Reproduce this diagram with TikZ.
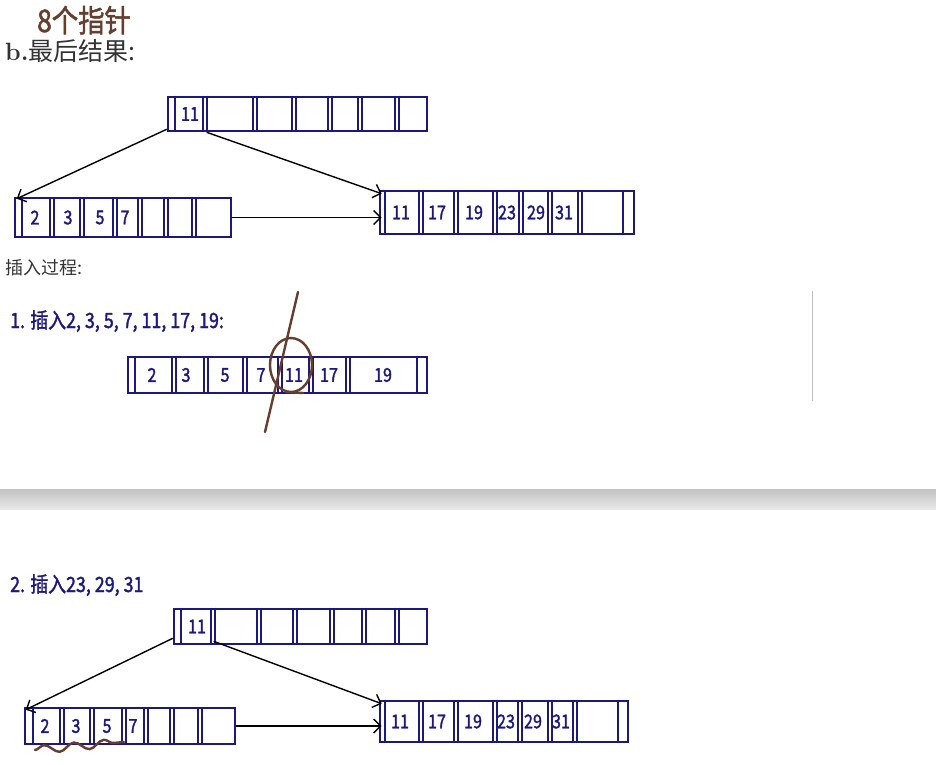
\documentclass[tikz,border=0pt]{standalone}
\usepackage{fontspec}
\newfontfamily\cjk{Noto Sans CJK SC}
\newfontfamily\cjkhand[FakeBold=1.6,FakeStretch=0.85]{Noto Sans CJK SC}
\usetikzlibrary{arrows.meta,calc,decorations.pathmorphing}
\definecolor{ink}{RGB}{28,24,125}
\definecolor{pencil}{RGB}{100,62,46}
\definecolor{textgray}{RGB}{51,51,51}
\tikzset{
  record/.style={draw=ink, line width=2.6pt, inner sep=0pt},
  sep/.style={draw=ink, line width=2.2pt},
  key/.style={text=ink, inner sep=0pt, font=\cjkhand\fontsize{19}{19}\selectfont},
  note/.style={text=ink, anchor=base west, inner sep=0pt, font=\cjkhand\fontsize{21}{21}\selectfont},
  heading/.style={text=textgray, anchor=base west, inner sep=0pt},
  link/.style={-{Straight Barb[length=7pt,width=14pt]}, line width=1.4pt, black},
  pen/.style={draw=pencil, line width=2.4pt, line cap=round},
}
% #1 record, #2 single inner lines, #3 double separators (left line), #4 x/key
\newcommand\drawcells[4]{%
  \foreach \s in {#2} {\draw[sep] (\s,0 |- #1.north) -- (\s,0 |- #1.south);}
  \foreach \s in {#3} {\draw[sep] (\s,0 |- #1.north) -- (\s,0 |- #1.south)
    (\s+4,0 |- #1.north) -- (\s+4,0 |- #1.south);}
  \foreach \x/\t in {#4} {\node[key] (#1-\t) at (\x,0 |- #1.center) {\t};}
}

\begin{document}
\begin{tikzpicture}[x=1pt,y=-1pt]
\useasboundingbox[fill=white] (0,0) rectangle (936,764);

% headings
\node[text=pencil, anchor=base west, inner sep=0pt, font=\cjkhand\fontsize{31}{31}\selectfont] (ptrnote) at (37,32) {8个指针};
\node[heading, font=\fontsize{25}{25}\selectfont] (final) at (5,60) {\textbf{b.}{\cjk 最后结果:}};
\node[heading, font=\cjk\fontsize{18}{18}\selectfont] (process) at (5,274) {插入过程:};

% final tree
\node[record, minimum width=259pt, minimum height=34pt] (rootA) at (297.5,114) {};
\node[record, minimum width=216pt, minimum height=39pt] (leafAL) at (123,217.5) {};
\node[record, minimum width=254pt, minimum height=43pt] (leafAR) at (507,212.5) {};
\drawcells{rootA}{175}{203,253,292,328,358,395}{190/11}
\drawcells{leafAL}{22}{50,80,113,138,164,192}{35/2,68/3,100/5,125/7}
\drawcells{leafAR}{385,623}{419,454,493,519,548,578}{401/11,437/17,474/19,507/23,536/29,564/31}
\draw[link] ([yshift=3pt]rootA.south west) -- ([xshift=3pt,yshift=-2pt]leafAL.north west);
\draw[link] ([xshift=40pt]rootA.south west) -- ([xshift=3pt,yshift=-4pt]leafAR.north west);
\draw[link] (leafAL.east) -- ([xshift=3pt]leafAL.east -| leafAR.west);

% step 1
\node[note] (step1) at (10,328) {1. 插入2, 3, 5, 7, 11, 17, 19:};
\node[record, minimum width=299pt, minimum height=36pt] (arr1) at (277.5,375) {};
\drawcells{arr1}{135,417}{172,204,243,278,309,346}{152/2,186/3,225/5,261/7,294/11,329/17,383/19}
\draw[pen] (298,292) -- (265,432);
\draw[pen] (291,365) ellipse [x radius=21pt, y radius=27pt];
\draw[pen] (286,392) -- (303,393);

\draw[black!25, line width=0.8pt] (812,291) -- (812,401);
\shade[top color=black!24, bottom color=black!9] (0,489) rectangle (936,509);

% step 2
\node[note] (step2) at (10,592) {2. 插入23, 29, 31};
\node[record, minimum width=253pt, minimum height=35pt] (rootB) at (300.5,626.5) {};
\node[record, minimum width=210pt, minimum height=36pt] (leafBL) at (130,726) {};
\node[record, minimum width=248pt, minimum height=41pt] (leafBR) at (504,721.5) {};
\drawcells{rootB}{181}{211,257,293,330,362,395}{197/11}
\drawcells{leafBL}{33}{60,90,122,144,170,198}{45/2,76/3,107/5,133/7}
\drawcells{leafBR}{385,618}{419,454,493,518,548,573}{400/11,437/17,473/19,506/23,533/29,561/31}
\draw[link] ([yshift=7pt]rootB.south west) -- ([xshift=2pt,yshift=-3pt]leafBL.north west);
\draw[link] ([xshift=41pt,yshift=4pt]rootB.south west) -- ([xshift=3pt,yshift=-4pt]leafBR.north west);
\draw[link] (leafBL.east) -- ([xshift=3pt]leafBL.east -| leafBR.west);
\draw[pen, decorate, decoration={snake, amplitude=4pt, segment length=30pt}] (35,750) -- (124,742);
\end{tikzpicture}
\end{document}
